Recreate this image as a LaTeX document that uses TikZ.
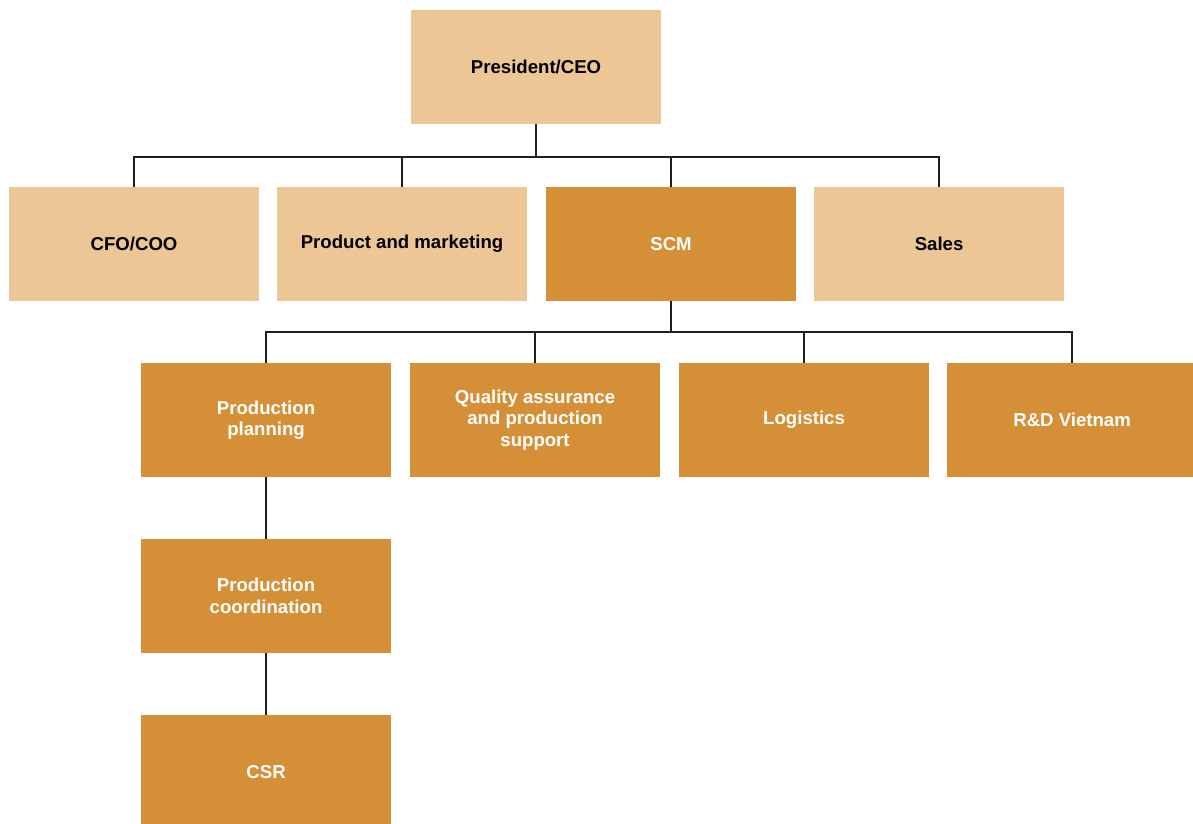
\documentclass[tikz,border=0pt]{standalone}
\usepackage{fontspec}
\setmainfont{Liberation Sans}
\definecolor{lightbox}{RGB}{236,198,148}
\definecolor{darkbox}{RGB}{213,143,55}
\definecolor{linecol}{RGB}{30,30,30}
\begin{document}
\begin{tikzpicture}[x=1pt,y=-1pt,
  orgbox/.style={anchor=north west,minimum width=249.7pt,minimum height=113.7pt,inner sep=0pt,
    align=center,font=\fontsize{18.6}{21.5}\selectfont\bfseries},
  lightorg/.style={orgbox,fill=lightbox,text=black},
  darkorg/.style={orgbox,fill=darkbox,text=white},
  conn/.style={draw=linecol,line width=1.2pt}]
\useasboundingbox (0,0) rectangle (1193,823);
\clip (0,0) rectangle (1193,823);
\fill[white] (0,0) rectangle (1193,823);
\node[lightorg] (ceo) at (411,10) {President/CEO};
\node[lightorg] (cfo) at (9,187) {CFO/COO};
\node[lightorg] (pm) at (277,187) {Product and marketing};
\node[darkorg] (scm) at (546,187) {SCM};
\node[lightorg] (sales) at (814,187) {Sales};
\node[darkorg] (pp) at (141,363) {Production\\planning};
\node[darkorg] (qa) at (410,363) {Quality assurance\\and production\\support};
\node[darkorg] (log) at (679,363) {Logistics};
\node[darkorg] (rd) at (947,363) {R\&D Vietnam};
\node[darkorg] (pc) at (141,539) {Production\\coordination};
\node[darkorg] (csr) at (141,715) {CSR};
\draw[conn] (ceo.south) -- (ceo.south |- 0,157);
\draw[conn] (cfo.north) |- (sales.north |- 0,157) -- (sales.north);
\draw[conn] (pm.north) -- (pm.north |- 0,157);
\draw[conn] (scm.north) -- (scm.north |- 0,157);
\draw[conn] (scm.south) -- (scm.south |- 0,332);
\draw[conn] (pp.north) |- (rd.north |- 0,332) -- (rd.north);
\draw[conn] (qa.north) -- (qa.north |- 0,332);
\draw[conn] (log.north) -- (log.north |- 0,332);
\draw[conn] (pp.south) -- (pc.north);
\draw[conn] (pc.south) -- (csr.north);
\end{tikzpicture}
\end{document}
